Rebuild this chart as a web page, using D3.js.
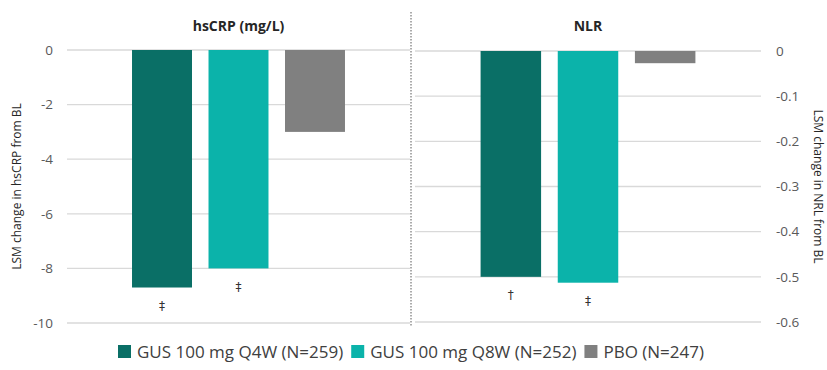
<!DOCTYPE html>
<html>
<head>
<meta charset="utf-8">
<script src="https://cdn.jsdelivr.net/npm/d3@7"></script>
<style>
  body { margin: 0; background: #fff; }
  svg { display: block; font-family: "Open Sans", sans-serif; }
</style>
</head>
<body>
<div id="chart"></div>
<script>
// treatment arms
var groups = ["GUS 100 mg Q4W (N=259)", "GUS 100 mg Q8W (N=252)", "PBO (N=247)"];
var colors = ["#0a6f66", "#0bb3aa", "#808080"];

// LSM change from baseline
var hscrp = [-8.7, -8.0, -3.0];
var nlr = [-0.50, -0.513, -0.027];

// significance marks under bars
var hscrpSig = ["‡", "‡", ""];
var nlrSig = ["†", "‡", ""];

var hscrpTicks = [0, -2, -4, -6, -8, -10];
var nlrTicks = [0, -0.1, -0.2, -0.3, -0.4, -0.5, -0.6];

var width = 827, height = 370;

var svg = d3.select("#chart").append("svg")
  .attr("width", width)
  .attr("height", height);

var plotTop = 50, plotBottom = 323;

// left panel
var yL = d3.scaleLinear().domain([-10, 0]).range([plotBottom, plotTop]);
var xL = d3.scaleBand().domain(groups).range([67, 410])
  .paddingInner(0.216).paddingOuter(0.85);

// right panel
var yR = d3.scaleLinear().domain([-0.6, 0]).range([plotBottom - 1, plotTop + 1]);
var xR = d3.scaleBand().domain(groups).range([415, 761])
  .paddingInner(0.216).paddingOuter(0.85);

function panel(x, y, ticks, values, sig, title, side, fmt) {
  var g = svg.append("g");
  var x0 = x.range()[0], x1 = x.range()[1];

  g.selectAll("line.grid")
    .data(ticks)
    .join("line")
      .attr("class", "grid")
      .attr("x1", x0).attr("x2", x1)
      .attr("y1", d => y(d)).attr("y2", d => y(d))
      .attr("stroke", "#d9d9d9")
      .attr("stroke-width", 1.3);

  g.selectAll("text.tick")
    .data(ticks)
    .join("text")
      .attr("class", "tick")
      .attr("x", side == "left" ? 53 : 776)
      .attr("y", d => y(d))
      .attr("dy", "0.35em")
      .attr("text-anchor", side == "left" ? "end" : "start")
      .attr("font-size", 13.5)
      .attr("fill", "#595959")
      .text(fmt);

  g.selectAll("rect")
    .data(values)
    .join("rect")
      .attr("x", (d, i) => x(groups[i]))
      .attr("width", x.bandwidth())
      .attr("y", y(0))
      .attr("height", d => y(d) - y(0))
      .attr("fill", (d, i) => colors[i]);

  g.selectAll("text.sig")
    .data(values)
    .join("text")
      .attr("class", "sig")
      .attr("x", (d, i) => x(groups[i]) + x.bandwidth() / 2)
      .attr("y", d => y(d) + 18)
      .attr("dy", "0.35em")
      .attr("text-anchor", "middle")
      .attr("font-family", "DejaVu Sans, sans-serif")
      .attr("font-size", 12)
      .attr("fill", "#333")
      .text((d, i) => sig[i]);

  g.append("text")
    .attr("x", (x0 + x1) / 2)
    .attr("y", 31)
    .attr("text-anchor", "middle")
    .attr("font-size", 14)
    .attr("font-weight", "bold")
    .attr("fill", "#262626")
    .text(title);
}

panel(xL, yL, hscrpTicks, hscrp, hscrpSig, "hsCRP (mg/L)", "left", d => d3.format("d")(d).replace("−", "-"));
panel(xR, yR, nlrTicks, nlr, nlrSig, "NLR", "right", d => (d == 0 ? "0" : d3.format(".1f")(d)).replace("−", "-"));

// axis titles
svg.append("text")
  .attr("transform", "translate(21," + (plotTop + plotBottom) / 2 + ") rotate(-90)")
  .attr("text-anchor", "middle")
  .attr("font-size", 12)
  .attr("fill", "#262626")
  .text("LSM change in hsCRP from BL");

svg.append("text")
  .attr("transform", "translate(814," + (plotTop + plotBottom) / 2 + ") rotate(90)")
  .attr("text-anchor", "middle")
  .attr("font-size", 12)
  .attr("fill", "#262626")
  .text("LSM change in NRL from BL");

// divider
svg.append("line")
  .attr("x1", 411).attr("x2", 411)
  .attr("y1", 12).attr("y2", 326)
  .attr("stroke", "#595959")
  .attr("stroke-width", 1)
  .attr("stroke-dasharray", "1.5,1.5");

// legend
var legend = svg.append("g");
var lx = 118;
groups.forEach(function (name, i) {
  var item = legend.append("g").attr("transform", "translate(" + lx + ",0)");
  item.append("rect")
    .attr("x", 0).attr("y", 345)
    .attr("width", 13).attr("height", 13)
    .attr("fill", colors[i]);
  var t = item.append("text")
    .attr("x", 19).attr("y", 352)
    .attr("dy", "0.35em")
    .attr("font-size", 17)
    .attr("fill", "#404040")
    .text(name);
  lx += 19 + t.node().getComputedTextLength() + 8;
});
</script>
</body>
</html>
